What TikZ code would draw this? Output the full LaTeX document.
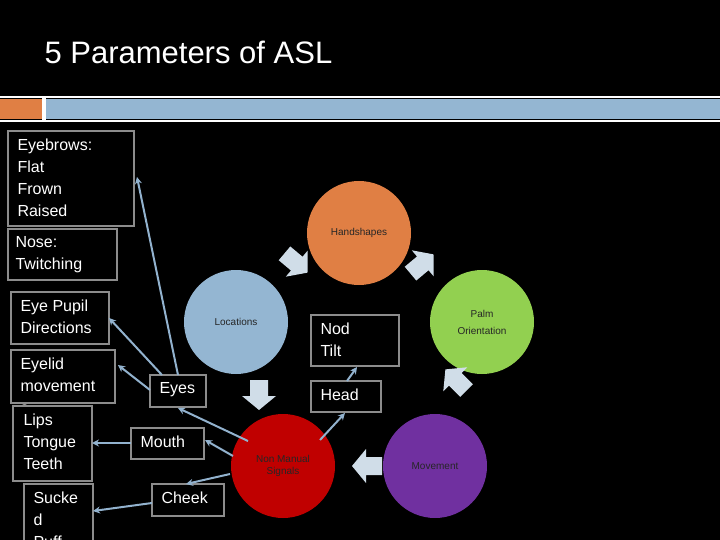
\documentclass[tikz,border=0pt]{standalone}
\usepackage{fontspec}
\setmainfont{Liberation Sans}
\usetikzlibrary{arrows.meta}
\definecolor{gbox}{HTML}{8C8C8C}
\definecolor{conn}{HTML}{92B2CE}
\definecolor{blk}{HTML}{D0DDE8}
\definecolor{orng}{RGB}{224,127,68}
\definecolor{lblue}{RGB}{148,182,210}
\definecolor{lgreen}{RGB}{146,208,80}
\definecolor{purp}{RGB}{112,48,160}
\definecolor{dred}{RGB}{192,0,0}
\begin{document}
\begin{tikzpicture}[x=1pt,y=-1pt,
 box/.style={draw=gbox,line width=2.5pt,fill=black,text=white,inner sep=0pt},
 bt/.style={text=white,font=\fontsize{16}{22}\selectfont,align=left,anchor=north west},
 circ/.style={circle,minimum size=104pt,inner sep=0pt,font=\fontsize{10}{17}\selectfont,text=black!85,align=center},
 ln/.style={draw=conn,line width=2pt,-{Stealth[length=7pt,width=7pt]}},
 bk/.pic={\fill[blk] (-15,-9) -- (1,-9) -- (1,-17) -- (15,0) -- (1,17) -- (1,9) -- (-15,9) -- cycle;}]
\fill[black] (0,0) rectangle (720,540);
\useasboundingbox (0,0) rectangle (720,540);
\node[anchor=base west,text=white,font=\fontsize{31}{36}\selectfont] (title) at (41,64) {5 Parameters of ASL};
\draw[white,line width=2pt] (0,97) -- (720,97) (0,121) -- (720,121);
\fill[white] (42,97) rectangle (46,121);
\fill[orng] (0,99) rectangle (42,119);
\fill[lblue] (46,99) rectangle (720,119);
% circles
\node[circ,fill=orng] (hand) at (359,233) {Handshapes};
\node[circ,fill=lblue] (loc) at (236,322) {Locations};
\node[circ,fill=lgreen] (palm) at (482,322) {Palm\\Orientation};
\node[circ,fill=purp] (mov) at (435,466) {Movement};
\node[circ,fill=dred] (nms) at (283,466) {Non Manual\\[-5pt]Signals};
% block arrows (y axis points down, so angles are mirrored)
\pic[rotate=-40] at (296,263) {bk};
\pic[rotate=40] at (422,264) {bk};
\pic[rotate=135] at (456,380) {bk};
\pic[rotate=180] at (367,466) {bk};
\pic[rotate=-90] at (259,395) {bk};
% boxes
\path[box] (8,131) rectangle (134,226);
\node[bt] (eyebrows) at (14,135) {Eyebrows:\\Flat\\Frown\\Raised};
\path[box] (8,229) rectangle (117,280);
\node[bt] (nose) at (12,233) {Nose:\\Twitching};
\path[box] (11,292) rectangle (109,344);
\node[bt] (pupil) at (17,296) {Eye Pupil\\Directions};
\path[box] (11,350) rectangle (115,403);
\node[bt] (lid) at (17,354) {Eyelid\\movement\\s};
\path[box] (13,406) rectangle (92,481);
\node[bt] (lips) at (20,410) {Lips\\Tongue\\Teeth};
\path[box] (24,484) rectangle (93,545);
\node[bt] (suck) at (30,488) {Sucke\\d\\Puff};
\path[box] (150,375) rectangle (206,407);
\node[bt] (eyes) at (156,379) {Eyes};
\path[box] (131,428) rectangle (204,459);
\node[bt] (mouth) at (137,432) {Mouth};
\path[box] (152,484) rectangle (224,516);
\node[bt] (cheek) at (158,488) {Cheek};
\path[box] (311,315) rectangle (399,366);
\node[bt] (nod) at (317,319) {Nod\\Tilt};
\path[box] (311,381) rectangle (381,412);
\node[bt] (head) at (317,385) {Head};
% connector anchors
\coordinate (eyT) at (178,375); \coordinate (eyT2) at (162,375); \coordinate (eyL) at (150,390);
\coordinate (ebR) at (137,177); \coordinate (puR) at (109,318); \coordinate (liR) at (118,365);
\coordinate (eyB) at (178,408); \coordinate (moR) at (205,440); \coordinate (moL) at (131,443);
\coordinate (lpR) at (92,443); \coordinate (chT) at (186,484); \coordinate (chL) at (152,503);
\coordinate (suR) at (93,511); \coordinate (hdB) at (345,413); \coordinate (hdT) at (347,381);
\coordinate (ndB) at (357,367);
\coordinate (n1) at (248,441); \coordinate (n2) at (233,456); \coordinate (n3) at (230,474); \coordinate (n4) at (320,440);
\draw[ln] (eyT) -- (ebR);
\draw[ln] (eyT2) -- (puR);
\draw[ln] (eyL) -- (liR);
\draw[ln] (n1) -- (eyB);
\draw[ln] (n2) -- (moR);
\draw[ln] (moL) -- (lpR);
\draw[ln] (n3) -- (chT);
\draw[ln] (chL) -- (suR);
\draw[ln] (n4) -- (hdB);
\draw[ln] (hdT) -- (ndB);
\end{tikzpicture}
\end{document}
